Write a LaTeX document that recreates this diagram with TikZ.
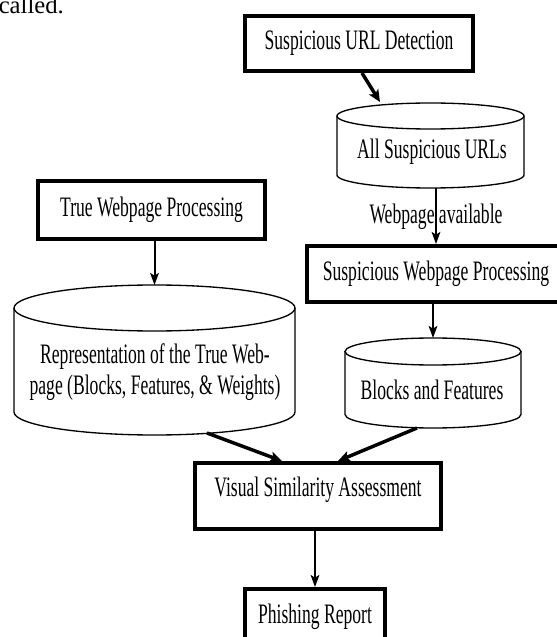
\documentclass[tikz,border=0pt]{standalone}
\usepackage{fontspec}
\setmainfont{Liberation Serif}
\usepackage{graphicx}
\usetikzlibrary{arrows.meta,calc}
\newcommand{\tall}[1]{\scalebox{1}[1.6]{#1}}
% cylinder outline: name, cx, y of top centre, y of bottom centre, rx, ry
\newcommand{\dbcyl}[6]{%
  \draw[dbline] (#2-#5,#3) -- (#2-#5,#4) arc[start angle=180,end angle=360,x radius=#5,y radius=#6] -- (#2+#5,#3);
  \draw[dbline] (#2,#3) ellipse[x radius=#5,y radius=#6];
  \coordinate (#1-top) at (#2,#3+#6);
  \coordinate (#1-bot) at (#2,#4-#6);}

\begin{document}
\begin{tikzpicture}[x=0.75pt,y=0.75pt,
  txt/.style={font=\fontsize{13.2}{14.5}\selectfont},
  box/.style={txt,draw,line width=3pt,inner sep=0pt},
  dbline/.style={line width=1pt},
  arr/.style={-{Stealth[length=9pt,width=6.5pt,inset=2pt]},line width=1.5pt},
  thickarr/.style={-{Stealth[length=9pt,width=8pt,inset=2pt]},line width=2.6pt}]
\useasboundingbox (0,0) rectangle (557,637);
\clip (0,0) rectangle (557,637);

% ===== running text above the figure =====
\node[anchor=base west,inner sep=0pt,font=\fontsize{18.5}{20}\selectfont] (called) at (-1.5,623.7) {called.};

% ===== process boxes =====
\node[box,minimum width=171pt,minimum height=41.25pt] (urldet) at (359,593.5) {\tall{Suspicious URL Detection}};
\node[box,minimum width=170.25pt,minimum height=43.5pt] (truepr) at (151.5,427) {\tall{True Webpage Processing}};
\node[box,minimum width=193.5pt,minimum height=42pt] (suspr) at (436,363) {\tall{Suspicious Webpage Processing}};
\node[box,minimum width=184.5pt,minimum height=49.5pt,text depth=13.6pt] (simil) at (318,141) {\tall{Visual Similarity Assessment}};
\node[box,minimum width=105pt,minimum height=41.25pt] (report) at (315,20.5) {\tall{Phishing Report}};

% ===== data stores =====
\dbcyl{urls}{430.5}{521}{462}{93.5}{13}
\node[txt] (urlstxt) at (432,485) {\tall{All Suspicious URLs}};
\dbcyl{reprdb}{154.5}{329}{225}{140.5}{23}
\node[txt] (reprtxt) at (155,264.5) {\tall{\begin{tabular}{@{}c@{}}Representation of the True Web-\\page (Blocks, Features, \& Weights)\end{tabular}}};
\dbcyl{featdb}{433}{285.5}{222.5}{88}{13.5}
\node[txt] (feattxt) at (432,247) {\tall{Blocks and Features}};

% ===== arrows =====
\coordinate (urls-in) at (380,535);
\coordinate (reprdb-out) at (207,204);
\coordinate (featdb-out) at (417,209);
\draw[thickarr] ([xshift=2.25pt]urldet.south) -- (urls-in);
\draw[arr] (urls-bot -| suspr.north) -- node[txt,pos=0.52] (avail) {\tall{Webpage available}} (suspr.north);
\draw[arr] (truepr.south -| reprdb-top) -- (reprdb-top);
\draw[arr] (suspr.south -| featdb-top) -- (featdb-top);
\draw[thickarr] (reprdb-out) -- ([xshift=-27pt]simil.north);
\draw[thickarr] (featdb-out) -- ([xshift=15pt]simil.north);
\draw[arr] (simil.south -| report.north) -- (report.north);

\end{tikzpicture}
\end{document}
